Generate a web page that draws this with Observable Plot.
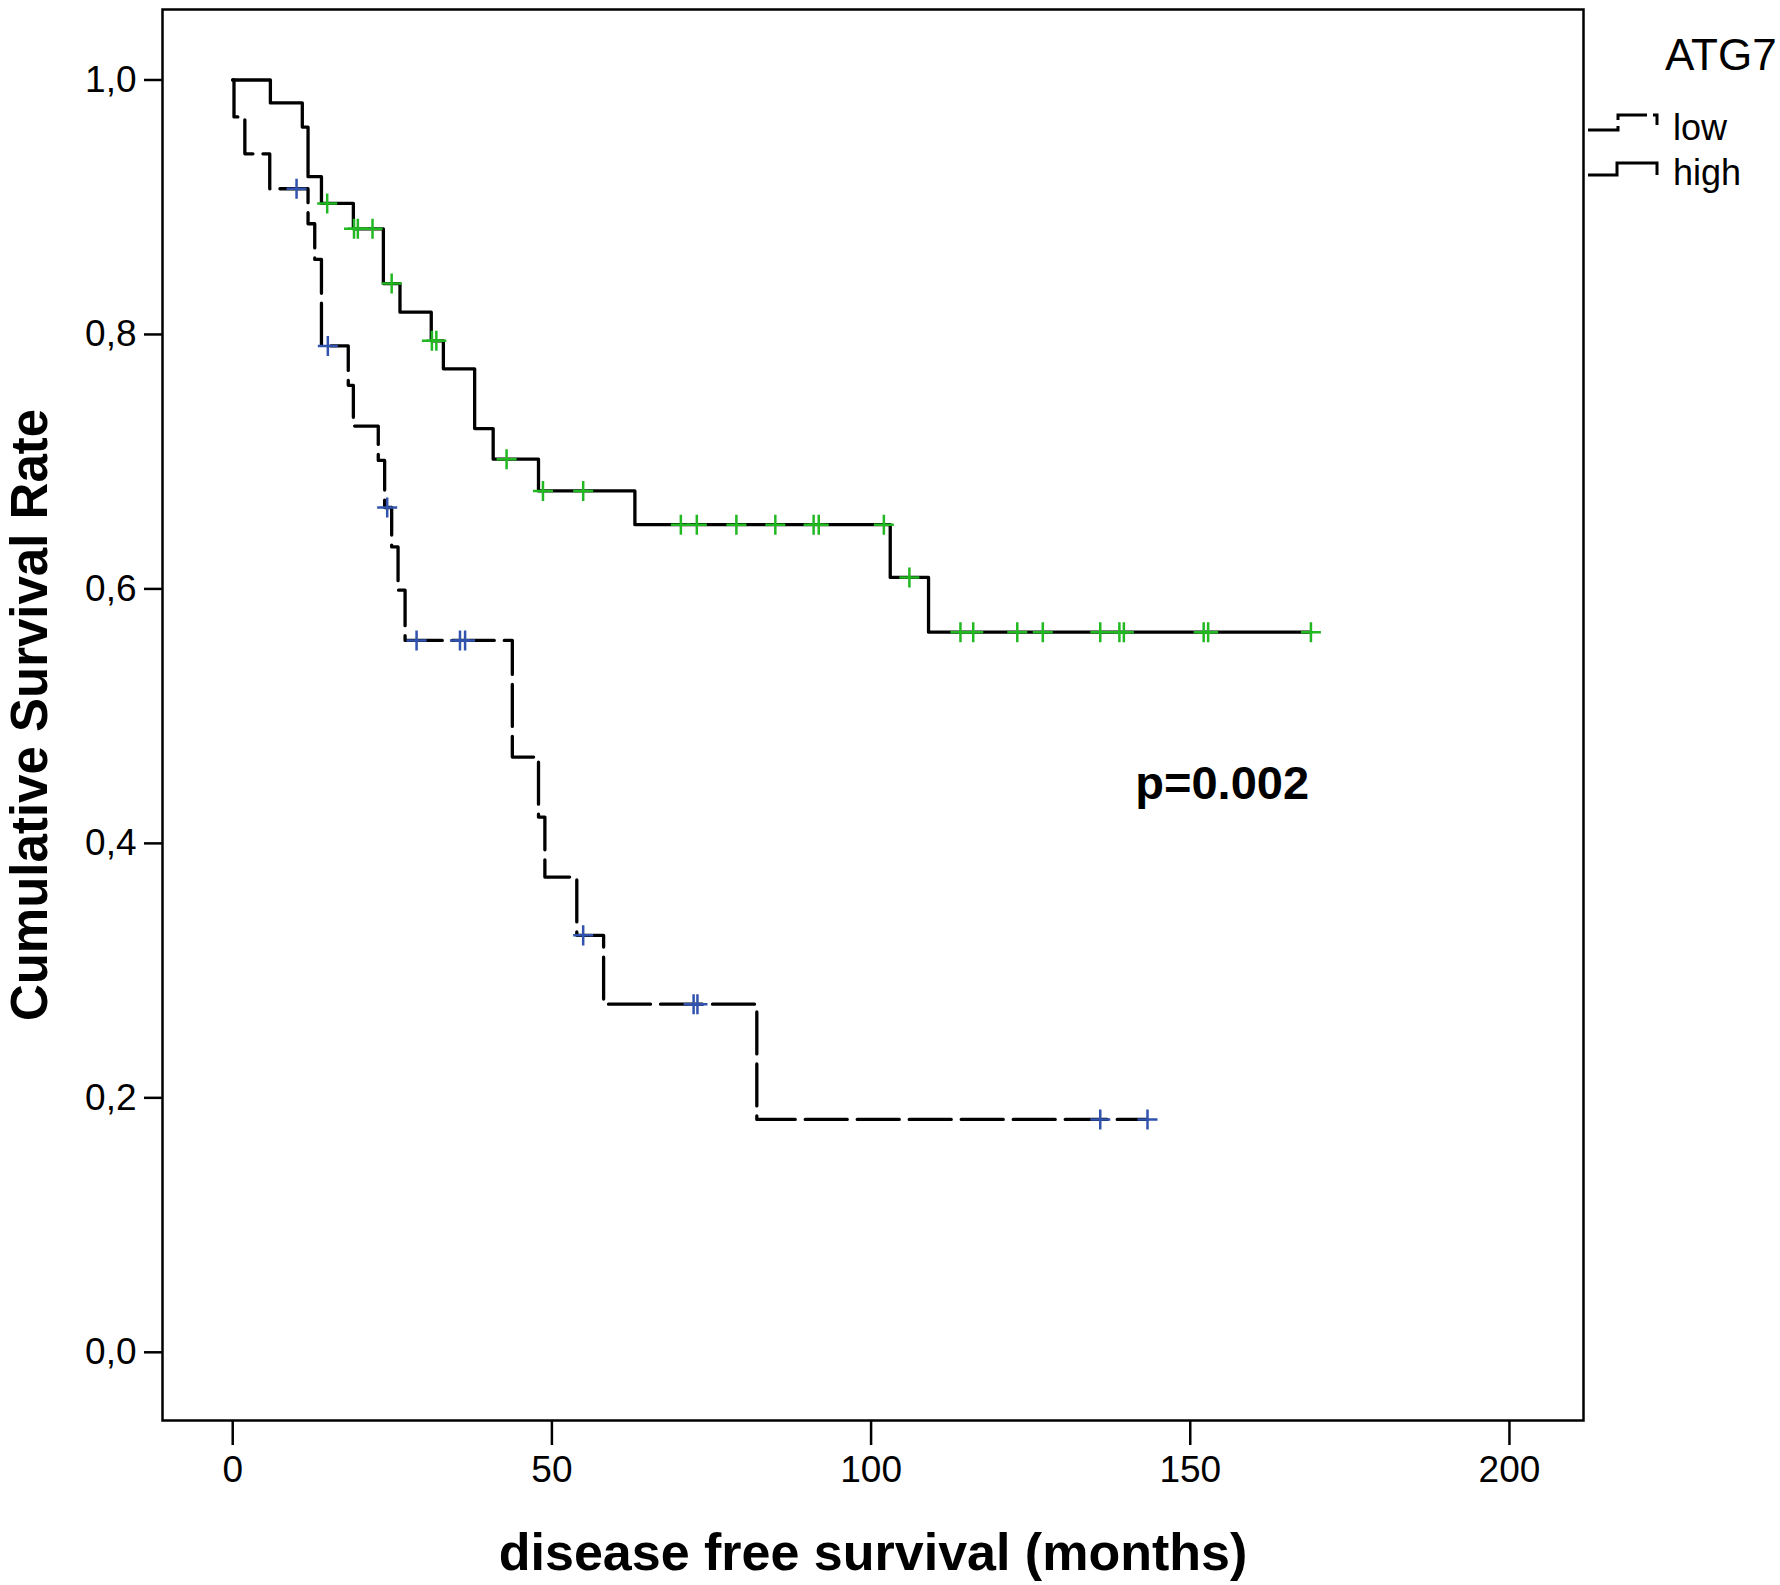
<!DOCTYPE html>
<html>
<head>
<meta charset="utf-8">
<script src="https://cdn.jsdelivr.net/npm/d3@7"></script>
<script src="https://cdn.jsdelivr.net/npm/@observablehq/plot@0.6"></script>
<style>
  html, body { margin: 0; padding: 0; background: white; }
  #chart { position: relative; width: 1780px; height: 1585px; }
</style>
</head>
<body>
<div id="chart"></div>
<script>
// ---- data ----
const highTime = [0, 5.9, 10.9, 11.8, 13.9, 18.9, 23.6, 26.2, 31.1, 33.0, 37.9, 40.8, 47.9, 63.0, 103.0, 109.0];
const highSurv = [1.0, 0.982, 0.963, 0.924, 0.903, 0.883, 0.840, 0.8175, 0.795, 0.773, 0.726, 0.702, 0.677, 0.6505, 0.609, 0.566];
const highCensor = [14.8, 19.0, 19.6, 21.9, 24.9, 31.2, 31.9, 42.9, 48.6, 54.9, 70.2, 72.7, 78.9, 85.0, 91.0, 91.8, 102.0, 106.0, 114.0, 116.0, 122.9, 126.9, 135.9, 138.9, 139.6, 152.1, 152.8, 168.9];

const lowTime = [0, 0.2, 1.9, 5.8, 11.8, 12.85, 13.9, 18.1, 18.9, 22.8, 23.8, 24.9, 25.9, 27.0, 43.8, 47.9, 48.9, 53.9, 58.1, 82.1];
const lowSurv = [1.0, 0.971, 0.942, 0.9145, 0.887, 0.859, 0.791, 0.760, 0.728, 0.701, 0.664, 0.633, 0.599, 0.5595, 0.4678, 0.4207, 0.3735, 0.3277, 0.2736, 0.183];
const lowCensor = [10.0, 14.9, 24.2, 28.8, 35.6, 36.4, 54.9, 72.2, 72.8, 135.9, 143.3];

const xTicks = [0, 50, 100, 150, 200];
const yTicks = [0, 0.2, 0.4, 0.6, 0.8, 1.0];
const groups = ["low", "high"];
const legendTitle = "ATG7";
const pText = "p=0.002";
const xLabel = "disease free survival (months)";
const yLabel = "Cumulative Survival Rate";

// ---- build tables ----
function stepRows(times, surv, censor) {
  const rows = times.map((t, i) => ({t, s: surv[i]}));
  const end = d3.max(censor);
  rows.push({t: end, s: surv[surv.length - 1]});
  return rows;
}
function censorRows(times, surv, censor) {
  return censor.map(c => {
    let s = surv[0];
    for (let i = 0; i < times.length; i++) if (times[i] <= c) s = surv[i];
    return {t: c, s};
  });
}
const highLine = stepRows(highTime, highSurv, highCensor);
const lowLine = stepRows(lowTime, lowSurv, lowCensor);
const highMarks = censorRows(highTime, highSurv, highCensor);
const lowMarks = censorRows(lowTime, lowSurv, lowCensor);

const font = "'Liberation Sans', Arial, Helvetica, sans-serif";
const fmt = d => d.toFixed(1).replace(".", ",");

const chart = Plot.plot({
  width: 1780,
  height: 1585,
  marginLeft: 162,
  marginRight: 197,
  marginTop: 9,
  marginBottom: 165,
  style: {fontFamily: font, background: "white", color: "black", overflow: "visible"},
  x: {domain: [-11, 211.6]},
  y: {domain: [-0.0536, 1.0554]},
  marks: [
    Plot.axisX({ticks: xTicks, tickSize: 25, tickPadding: 10, strokeWidth: 2.5, fontSize: 37, label: null, fill: "black"}),
    Plot.axisY({ticks: yTicks, tickSize: 18, tickPadding: 8, strokeWidth: 2.5, fontSize: 37, tickFormat: fmt, label: null, fill: "black"}),
    Plot.frame({stroke: "black", strokeWidth: 2.5}),
    Plot.line(lowLine, {x: "t", y: "s", curve: "step-after", stroke: "black", strokeWidth: 3.3, strokeDasharray: "42,10"}),
    Plot.line(highLine, {x: "t", y: "s", curve: "step-after", stroke: "black", strokeWidth: 3.3}),
    Plot.dot(lowMarks, {x: "t", y: "s", symbol: "plus", r: 6.5, stroke: "#3153ad", strokeWidth: 2.5}),
    Plot.dot(highMarks, {x: "t", y: "s", symbol: "plus", r: 6.5, stroke: "#22b822", strokeWidth: 2.5}),
    Plot.text([pText], {x: 155, y: 0.447, text: d => d, fontSize: 47, fontWeight: "bold", textAnchor: "middle", fill: "black"}),
    Plot.text([xLabel], {frameAnchor: "bottom", dy: 133, lineAnchor: "middle", textAnchor: "middle", text: d => d, fontSize: 52, fontWeight: "bold", fill: "black"}),
    Plot.text([yLabel], {frameAnchor: "left", dx: -132, rotate: -90, lineAnchor: "middle", textAnchor: "middle", text: d => d, fontSize: 51, fontWeight: "bold", fill: "black"})
  ]
});

document.getElementById("chart").appendChild(chart);

// ---- legend (outside the frame, right side) ----
const svg = d3.select(chart);
const lg = svg.append("g").attr("font-family", font).attr("fill", "black").attr("text-anchor", "start");
lg.append("text").attr("x", 1665).attr("y", 70).attr("font-size", 44).text(legendTitle);
lg.append("path").attr("d", "M1588,130 H1618 V115 H1657 V125")
  .attr("fill", "none").attr("stroke", "black").attr("stroke-width", 3).attr("stroke-dasharray", "34,6");
lg.append("path").attr("d", "M1588,175 H1617 V163 H1657 V175")
  .attr("fill", "none").attr("stroke", "black").attr("stroke-width", 3);
lg.append("text").attr("x", 1673).attr("y", 140).attr("font-size", 36).text(groups[0]);
lg.append("text").attr("x", 1673).attr("y", 185).attr("font-size", 36).text(groups[1]);
</script>
</body>
</html>
